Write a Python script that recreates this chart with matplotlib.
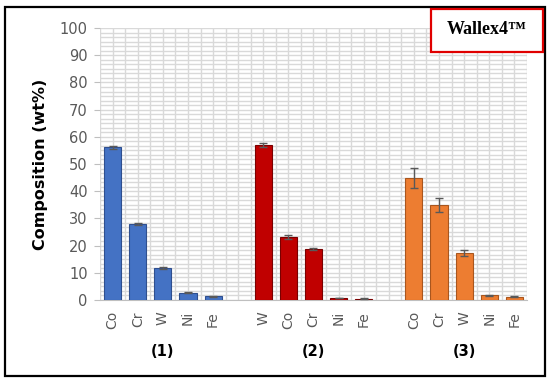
import numpy as np
import matplotlib
matplotlib.use("Agg")
import matplotlib.pyplot as plt
from matplotlib.patches import Rectangle
from matplotlib.ticker import MultipleLocator

# data, three samples, five elements each
groups = ["(1)", "(2)", "(3)"]
elements_1 = ["Co", "Cr", "W", "Ni", "Fe"]
elements_2 = ["W", "Co", "Cr", "Ni", "Fe"]
elements_3 = ["Co", "Cr", "W", "Ni", "Fe"]
values_1 = [56.1, 27.8, 11.7, 2.6, 1.4]
values_2 = [57.0, 23.0, 18.8, 0.7, 0.5]
values_3 = [44.8, 34.9, 17.2, 1.7, 1.2]
errors_1 = [0.5, 0.4, 0.3, 0.2, 0.2]
errors_2 = [0.7, 0.7, 0.4, 0.1, 0.1]
errors_3 = [3.7, 2.7, 1.1, 0.2, 0.2]
colors = ["#4472C4", "#C00000", "#ED7D31"]
edges = ["#2F4F8F", "#7A0000", "#A9561E"]

fig = plt.figure(figsize=(5.5, 3.85), dpi=100)
ax = fig.add_axes([0.182, 0.221, 0.776, 0.706])

all_sets = [(elements_1, values_1, errors_1),
            (elements_2, values_2, errors_2),
            (elements_3, values_3, errors_3)]
tick_pos = []
tick_lab = []
for g, (els, vals, errs) in enumerate(all_sets):
    x = np.arange(len(els)) + g * 6
    ax.bar(x, vals, width=0.68, color=colors[g], edgecolor=edges[g],
           linewidth=0.8, zorder=3)
    ax.errorbar(x, vals, yerr=errs, fmt="none", ecolor="#595959",
                elinewidth=1, capsize=3, capthick=1, zorder=4)
    tick_pos += list(x)
    tick_lab += els
    ax.text(x.mean(), -0.19, groups[g], transform=ax.get_xaxis_transform(),
            ha="center", va="center", fontsize=10.5, fontweight="bold")

ax.set_xlim(-0.5, 16.5)
ax.set_ylim(0, 100)
ax.set_xticks(tick_pos)
ax.set_xticklabels(tick_lab, rotation=90, color="#595959", fontsize=10)
ax.xaxis.set_minor_locator(MultipleLocator(0.5))
ax.yaxis.set_major_locator(MultipleLocator(10))
ax.yaxis.set_minor_locator(MultipleLocator(10 / 6))
ax.tick_params(axis="x", which="both", length=0, pad=8)
ax.tick_params(axis="y", which="major", length=4, color="#BFBFBF",
               labelcolor="#595959", labelsize=10.5, pad=5)
ax.tick_params(axis="y", which="minor", length=0)
ax.grid(which="both", color="#D9D9D9", linewidth=1, zorder=0)
ax.set_axisbelow(True)
for s in ["top", "right", "left"]:
    ax.spines[s].set_visible(False)
ax.spines["bottom"].set_color("#BFBFBF")
ax.set_ylabel("Composition (wt%)", fontsize=11.5, fontweight="bold", labelpad=8)

# outer frame
fig.add_artist(Rectangle((0.009, 0.023), 0.982, 0.958, transform=fig.transFigure,
                         fill=False, edgecolor="black", linewidth=1.6, zorder=10))
# label box
fig.add_artist(Rectangle((0.784, 0.865), 0.203, 0.112, transform=fig.transFigure,
                         facecolor="white", edgecolor="#E00000", linewidth=1.6, zorder=10))
fig.text(0.885, 0.924, "Wallex4\u2122", ha="center", va="center", fontsize=13,
         fontweight="bold", family="Liberation Serif", zorder=11)

fig.savefig("out.png", dpi=100)
